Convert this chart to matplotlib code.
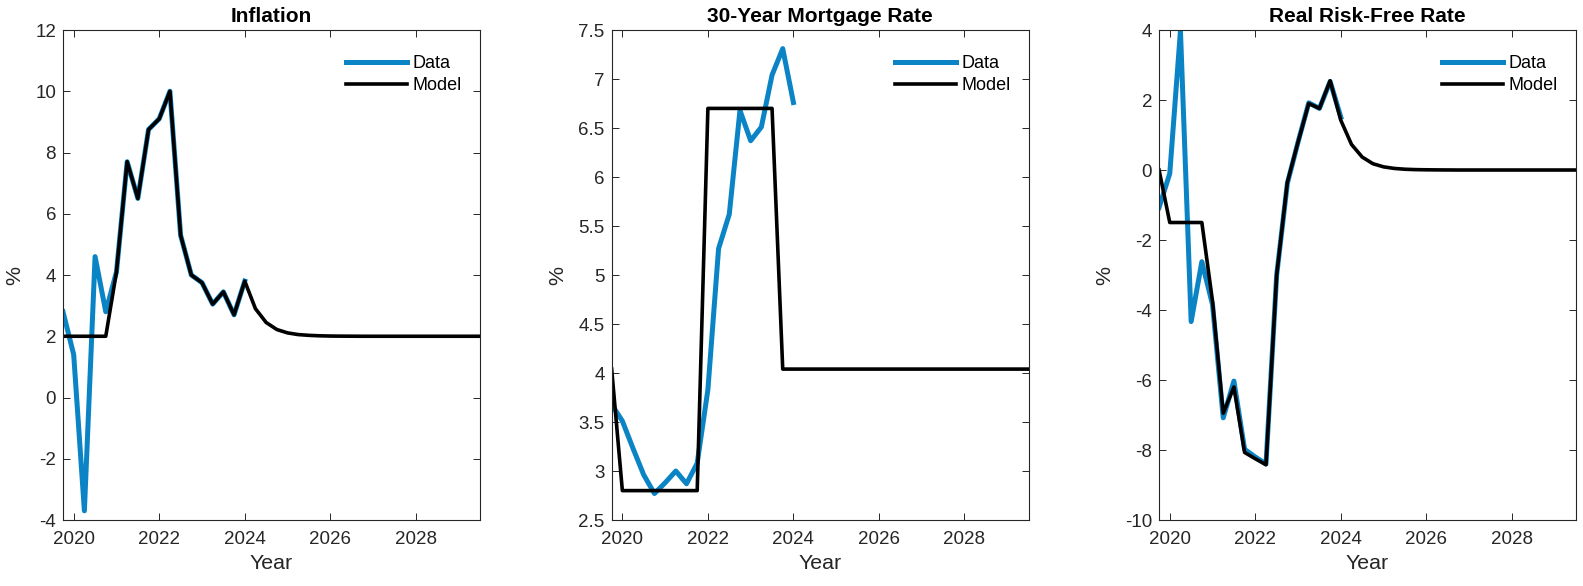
import numpy as np
import matplotlib
matplotlib.use("Agg")
import matplotlib.pyplot as plt

plt.rcParams['font.family'] = ['Liberation Sans', 'DejaVu Sans']
plt.rcParams['axes.unicode_minus'] = False

# quarterly data, first quarter 2019Q4
start_year = 2019.75

infl_data = [2.8, 1.4, -3.7, 4.6, 2.8, 4.1, 7.7, 6.5, 8.75, 9.1, 10.0, 5.3,
             4.0, 3.75, 3.05, 3.45, 2.7, 3.8]
infl_model = [2.0, 2.0, 2.0, 2.0, 2.0, 4.1, 7.7, 6.5, 8.75, 9.1, 10.0, 5.3,
              4.0, 3.75, 3.05, 3.45, 2.7, 3.8, 2.9, 2.45, 2.22, 2.11, 2.055,
              2.03, 2.015, 2.007, 2.004, 2.002, 2.0, 2.0, 2.0, 2.0, 2.0, 2.0,
              2.0, 2.0, 2.0, 2.0, 2.0, 2.0]

mort_data = [3.68, 3.51, 3.23, 2.96, 2.77, 2.88, 3.0, 2.87, 3.08, 3.83, 5.27,
             5.62, 6.68, 6.37, 6.51, 7.04, 7.31, 6.76]
mort_model = [4.04, 2.8, 2.8, 2.8, 2.8, 2.8, 2.8, 2.8, 2.8, 6.7, 6.7, 6.7, 6.7,
              6.7, 6.7, 6.7, 4.04, 4.04, 4.04, 4.04, 4.04, 4.04, 4.04, 4.04,
              4.04, 4.04, 4.04, 4.04, 4.04, 4.04, 4.04, 4.04, 4.04, 4.04, 4.04,
              4.04, 4.04, 4.04, 4.04, 4.04]

real_data = [-1.07, -0.1, 3.98, -4.33, -2.62, -3.85, -7.08, -6.03, -7.98, -8.2,
             -8.4, -3.0, -0.38, 0.8, 1.92, 1.76, 2.53, 1.51]
real_model = [0.0, -1.5, -1.5, -1.5, -1.5, -3.75, -6.95, -6.2, -8.07, -8.25,
              -8.42, -3.0, -0.35, 0.8, 1.9, 1.76, 2.55, 1.42, 0.73, 0.37, 0.18,
              0.09, 0.045, 0.022, 0.011, 0.006, 0.003, 0.0015, 0.0, 0.0, 0.0,
              0.0, 0.0, 0.0, 0.0, 0.0, 0.0, 0.0, 0.0, 0.0]

titles = ['Inflation', '30-Year Mortgage Rate', 'Real Risk-Free Rate']
ylims = [(-4, 12), (2.5, 7.5), (-10, 4)]
yticks = [np.arange(-4, 12.1, 2), np.arange(2.5, 7.51, 0.5), np.arange(-10, 4.1, 2)]
xticks = [2020, 2022, 2024, 2026, 2028]

blue = '#0b84c6'
grey = '#262626'

fig = plt.figure(figsize=(15.83, 5.86), dpi=100)
lefts = [0.0398, 0.3864, 0.7322]

series = [(infl_data, infl_model), (mort_data, mort_model), (real_data, real_model)]
for i, (d, m) in enumerate(series):
    ax = fig.add_axes([lefts[i], 0.1126, 0.2634, 0.8362])
    xd = start_year + 0.25 * np.arange(len(d))
    xm = start_year + 0.25 * np.arange(len(m))
    ax.plot(xd, d, color=blue, lw=3.6, label='Data')
    ax.plot(xm, m, color='black', lw=2.6, label='Model')
    ax.set_xlim(2019.75, 2029.5)
    ax.set_ylim(*ylims[i])
    ax.set_xticks(xticks)
    ax.set_yticks(yticks[i])
    ax.set_yticklabels(['%g' % v for v in yticks[i]])
    ax.tick_params(direction='in', top=True, right=True, length=5, width=0.7,
                   colors=grey, labelsize=13.5)
    ax.tick_params(axis='x', pad=8)
    ax.tick_params(axis='y', pad=5)
    for s in ax.spines.values():
        s.set_color(grey)
        s.set_linewidth(0.8)
    ax.set_title(titles[i], fontsize=15, fontweight='bold', pad=6)
    ax.set_xlabel('Year', fontsize=15.4, color=grey, labelpad=4)
    ax.set_ylabel('%', fontsize=15.4, color=grey, labelpad=8)
    ax.legend(loc='upper right', bbox_to_anchor=(1.0, 0.986), frameon=False,
              fontsize=13, handlelength=3.4, handletextpad=0.3,
              labelspacing=0.3, borderaxespad=0.6)

fig.savefig('out.png', dpi=100)
